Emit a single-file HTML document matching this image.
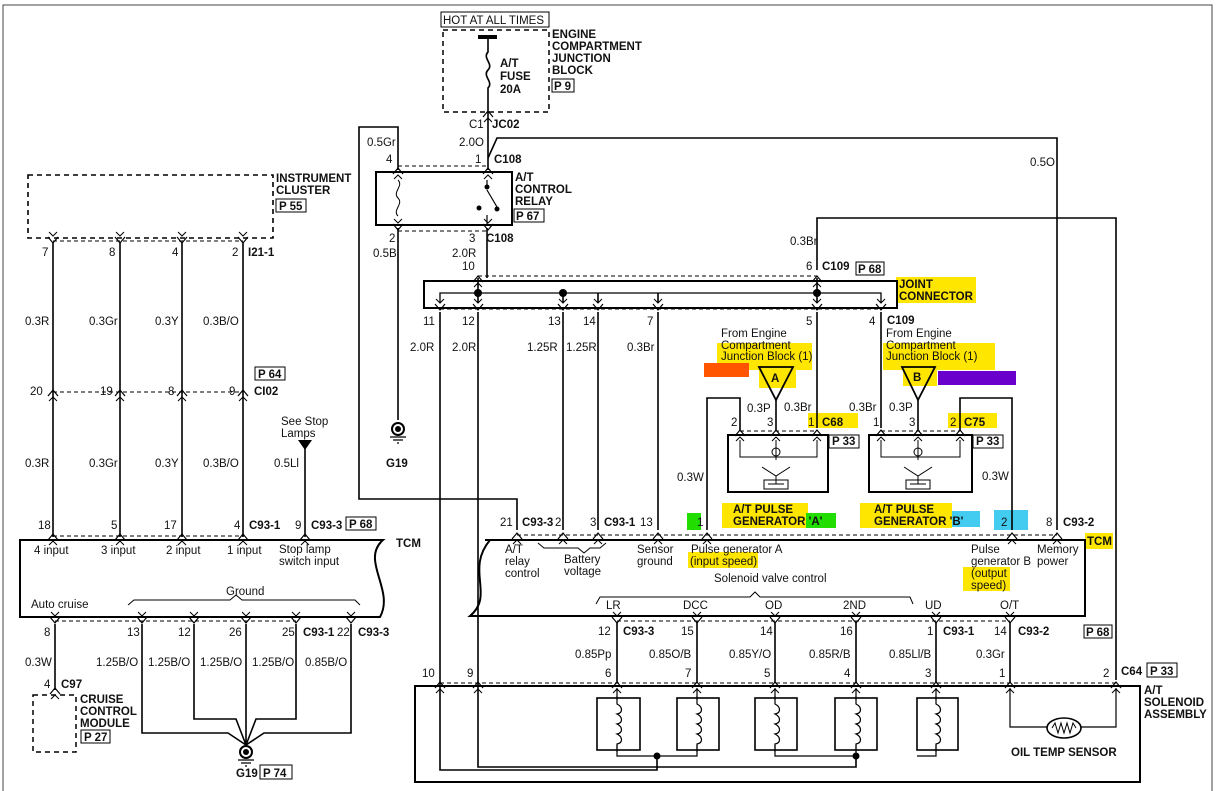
<!DOCTYPE html>
<html><head><meta charset="utf-8"><style>
html,body{margin:0;padding:0;background:#fff}
svg{display:block}
text{font-family:"Liberation Sans",sans-serif;font-size:11.5px;fill:#111}
.b{font-weight:bold}
</style></head><body>
<svg width="1216" height="791" viewBox="0 0 1216 791" xmlns="http://www.w3.org/2000/svg">
<defs>
<g id="u"><path d="M-5,4 L0,-2 L5,4" fill="none" stroke="#000" stroke-width="1.2"/><path d="M-4,9 L0,5 L4,9" fill="none" stroke="#000" stroke-width="1"/></g>
<g id="d"><path d="M-5,-4 L0,2 L5,-4" fill="none" stroke="#000" stroke-width="1.2"/><path d="M-4,-9 L0,-5 L4,-9" fill="none" stroke="#000" stroke-width="1"/></g>
<path id="coil" d="M0,0 V8 C6,11 6,17 0,18 C6,21 6,27 0,28 C6,31 6,37 0,38 C6,41 6,47 0,48 V56" fill="none" stroke="#000" stroke-width="1.2"/>
</defs>
<g>
<rect x="896" y="277" width="80" height="26" fill="#ffe600"/>
<rect x="717" y="343" width="95" height="27" fill="#ffe600"/>
<rect x="883" y="343" width="112" height="27" fill="#ffe600"/>
<rect x="759" y="368" width="37" height="20" fill="#ffe600"/>
<rect x="903" y="368" width="34" height="18" fill="#ffe600"/>
<rect x="704" y="363" width="45" height="14" fill="#ff5500"/>
<rect x="938" y="371" width="78" height="14" fill="#6a00cc"/>
<rect x="808" y="413" width="50" height="15" fill="#ffe600"/>
<rect x="948" y="413" width="49" height="15" fill="#ffe600"/>
<rect x="722" y="503" width="86" height="25" fill="#ffe600"/>
<rect x="806" y="513" width="30" height="15" fill="#22dd00"/>
<rect x="687" y="513" width="14" height="17" fill="#22dd00"/>
<rect x="860" y="503" width="92" height="25" fill="#ffe600"/>
<rect x="952" y="511" width="28" height="16" fill="#44ccf0"/>
<rect x="994" y="510" width="34" height="20" fill="#44ccf0"/>
<rect x="1085" y="533" width="28" height="16" fill="#ffe600"/>
<rect x="688" y="552" width="70" height="16" fill="#ffe600"/>
<rect x="963" y="567" width="47" height="24" fill="#ffe600"/>
</g>
<path d="M3,791 V5 H1212 V791" fill="none" stroke="#444" stroke-width="1"/>
<g fill="none" stroke="#000" stroke-width="1.6">
<rect x="441" y="12" width="108" height="15" stroke-width="1"/>
<rect x="443" y="30" width="106" height="82" stroke-dasharray="5,4" stroke-width="1.5"/>
<line x1="478" y1="37" x2="497" y2="37" stroke-width="4"/>
<path d="M488,38 V52 C482,58 494,64 488,70 C482,76 494,82 488,88 V170"/>
<path d="M488,158 L497,138 H1057 V530"/>
<rect x="376" y="172" width="136" height="53" stroke-width="2"/>
<path d="M398,170 V127 H359 V499 H517 V530"/>
<path d="M398,228 V420"/>
<path d="M398,180 C404,186 392,192 398,198 C404,204 392,210 398,216" stroke-width="1"/>
<path d="M487,180 V188 M487,190 L497,207 M487,215 V225" stroke-width="1.2"/>
<path d="M487,228 V278"/>
<rect x="424" y="281" width="473" height="27" stroke-width="2"/>
<path d="M440,303 V293 H881 V303" stroke-width="1.3"/>
<path d="M478,278 V303 M817,278 V303 M563,293 V303 M598,293 V303 M658,293 V303"/>
<path d="M817,270 V218 H1116 V680"/>
<path d="M440,312 V770 H657 V756"/>
<path d="M478,312 V767 H856 V756"/>
<path d="M563,312 V530 M598,312 V530 M658,312 V530 M817,312 V428 M881,312 V428"/>
<rect x="728" y="435" width="100" height="57" stroke-width="2"/>
<rect x="869" y="435" width="103" height="57" stroke-width="2"/>
<path d="M740,430 V398 H707 V530"/>
<path d="M960,430 V398 H1012 V530"/>
<path d="M776,400 V430 M918,400 V430"/>
<path d="M759,367 H793 L776,400 Z M902,367 H935 L918,400 Z" stroke-width="1.8"/>
<path d="M740,440 V457 H817 V440 M776,440 V460 M762,467 L776,476 L790,467 M776,476 V484 M768,484 H784" stroke-width="1"/>
<path d="M881,440 V457 H960 V440 M918,440 V460 M904,467 L918,476 L932,467 M918,476 V484 M910,484 H926" stroke-width="1"/>
<circle cx="776" cy="452" r="4" stroke-width="1"/><circle cx="918" cy="452" r="4" stroke-width="1"/>
<rect x="764" y="480" width="24" height="9" stroke-width="1"/><rect x="906" y="480" width="24" height="9" stroke-width="1"/>
<path d="M485,540 H1085 V616 H470 C495,595 465,570 490,540" stroke-width="2"/>
<path d="M617,622 V683 M697,622 V683 M775,622 V683 M856,622 V683 M936,622 V683 M1010,622 V683"/>
<path d="M538,543 L544,548 H578 L584,553 L590,548 H600 L606,543" stroke-width="1"/>
<path d="M596,604 L600,597 H750 L755,592 L760,597 H910 L913,604" stroke-width="1"/>
<rect x="415" y="686" width="725" height="96" stroke-width="2"/>
<g stroke-width="1.6">
<rect x="597" y="698" width="43" height="52"/><rect x="677" y="698" width="42" height="52"/>
<rect x="755" y="698" width="42" height="52"/><rect x="835" y="698" width="42" height="52"/>
<rect x="917" y="698" width="41" height="52"/>
</g>
<path d="M617,688 V700 M617,745 V756 H697 V745 M697,688 V700 M775,688 V700 M775,745 V756 H856 V745 M856,688 V700 M936,688 V700 M936,745 V756 H917" stroke-width="1.2"/>
<path d="M1010,688 V727 H1047 M1081,727 H1116 V688" stroke-width="1.2"/>
<ellipse cx="1064" cy="728" rx="17" ry="10" stroke-width="1.6"/>
<path d="M1052,728 L1055,723 L1058,733 L1061,723 L1064,733 L1067,723 L1070,733 L1073,723 L1076,728" stroke-width="1"/>
<rect x="28" y="175" width="245" height="63" stroke-dasharray="5,4" stroke-width="1.6"/>
<path d="M53,243 V537 M120,243 V537 M182,243 V537 M243,243 V537"/>
<path d="M305,448 V537"/>
<path d="M20,540 H383 C360,560 395,590 380,617 H20 Z" stroke-width="2"/>
<path d="M128,605 L134,600 H230 L236,595 L242,600 H355 L360,605" stroke-width="1"/>
<path d="M55,624 V690"/>
<rect x="33" y="695" width="43" height="57" stroke-dasharray="5,4" stroke-width="1.5"/>
<path d="M142,624 V733 H228 L246,745 M194,624 V719 H236 L246,745 M246,624 V745 M296,624 V719 H256 L246,745 M351,624 V733 H264 L246,745"/>
</g>
<use href="#coil" x="617" y="696"/><use href="#coil" x="697" y="696"/><use href="#coil" x="775" y="696"/><use href="#coil" x="856" y="696"/><use href="#coil" x="936" y="696"/>
<g stroke="#000" stroke-width="1" stroke-dasharray="4,3" fill="none">
<path d="M398,166 H488 M398,231 H488 M53,241 H243 M53,392 H243 M53,536 H243 M55,621 H296 M478,276 H817 M440,309 H881 M740,431 H817 M881,431 H960 M517,535 H1057 M617,621 H1010 M440,683 H1116"/>
</g>
<g>
<use href="#u" x="488" y="113"/><use href="#u" x="398" y="170"/><use href="#u" x="488" y="170"/>
<use href="#d" x="398" y="228"/><use href="#d" x="488" y="228"/>
<use href="#u" x="478" y="278"/><use href="#u" x="817" y="278"/>
<use href="#d" x="440" y="308"/><use href="#d" x="478" y="308"/><use href="#d" x="563" y="308"/><use href="#d" x="598" y="308"/><use href="#d" x="658" y="308"/><use href="#d" x="817" y="308"/><use href="#d" x="881" y="308"/>
<use href="#u" x="740" y="432"/><use href="#u" x="776" y="432"/><use href="#u" x="817" y="432"/>
<use href="#u" x="881" y="432"/><use href="#u" x="918" y="432"/><use href="#u" x="960" y="432"/>
<use href="#u" x="517" y="535"/><use href="#u" x="563" y="535"/><use href="#u" x="598" y="535"/><use href="#u" x="658" y="535"/><use href="#u" x="707" y="535"/><use href="#u" x="1012" y="535"/><use href="#u" x="1057" y="535"/>
<use href="#d" x="617" y="621"/><use href="#d" x="697" y="621"/><use href="#d" x="775" y="621"/><use href="#d" x="856" y="621"/><use href="#d" x="936" y="621"/><use href="#d" x="1010" y="621"/>
<use href="#u" x="440" y="684"/><use href="#u" x="478" y="684"/><use href="#u" x="617" y="684"/><use href="#u" x="697" y="684"/><use href="#u" x="775" y="684"/><use href="#u" x="856" y="684"/><use href="#u" x="936" y="684"/><use href="#u" x="1010" y="684"/><use href="#u" x="1116" y="684"/>
<use href="#d" x="53" y="241"/><use href="#d" x="120" y="241"/><use href="#d" x="182" y="241"/><use href="#d" x="243" y="241"/>
<use href="#u" x="53" y="392"/><use href="#u" x="120" y="392"/><use href="#u" x="182" y="392"/><use href="#u" x="243" y="392"/>
<use href="#u" x="53" y="536"/><use href="#u" x="120" y="536"/><use href="#u" x="182" y="536"/><use href="#u" x="243" y="536"/><use href="#u" x="305" y="536"/>
<use href="#d" x="55" y="621"/><use href="#d" x="142" y="621"/><use href="#d" x="194" y="621"/><use href="#d" x="246" y="621"/><use href="#d" x="296" y="621"/><use href="#d" x="351" y="621"/>
<use href="#u" x="55" y="690"/>
</g>
<g fill="#000">
<circle cx="478" cy="293" r="4"/><circle cx="563" cy="293" r="4"/><circle cx="817" cy="293" r="4"/>
<circle cx="657" cy="756" r="3.5"/><circle cx="856" cy="756" r="3.5"/>
<circle cx="487" cy="187" r="2.5"/><circle cx="497" cy="209" r="2.5"/><circle cx="479" cy="208" r="2.5"/>
<path d="M298,440 H312 L305,450 Z"/>
</g>
<g fill="none" stroke="#000" stroke-width="2">
<circle cx="398" cy="429" r="6"/><circle cx="246" cy="752" r="6"/>
</g>
<g fill="#000"><circle cx="398" cy="429" r="3"/><circle cx="246" cy="752" r="3"/></g>
<path d="M390,437 H406 M393,440 H403 M397,443 H399 M238,760 H254 M241,763 H251 M245,766 H247" stroke="#000" stroke-width="1.2"/>
<g fill="none" stroke="#000" stroke-width="1">
<rect x="552" y="79" width="22" height="13"/><rect x="514" y="209" width="30" height="13"/>
<rect x="276" y="199" width="30" height="13"/><rect x="255" y="367" width="30" height="13"/>
<rect x="346" y="517" width="30" height="13"/><rect x="856" y="262" width="28" height="13"/>
<rect x="829" y="435" width="30" height="13"/><rect x="973" y="435" width="30" height="13"/>
<rect x="1084" y="625" width="28" height="13"/><rect x="1147" y="663" width="30" height="14"/>
<rect x="81" y="730" width="29" height="13"/><rect x="260" y="765" width="32" height="14"/>
</g>
<g>
<text x="443" y="24">HOT AT ALL TIMES</text>
<text class="b" x="552" y="38">ENGINE</text><text class="b" x="552" y="50">COMPARTMENT</text><text class="b" x="552" y="62">JUNCTION</text><text class="b" x="552" y="74">BLOCK</text>
<text class="b" x="554" y="90">P 9</text>
<text class="b" x="500" y="67">A/T</text><text class="b" x="500" y="80">FUSE</text><text class="b" x="500" y="93">20A</text>
<text x="469" y="128">C1</text><text class="b" x="492" y="128">JC02</text>
<text x="459" y="146">2.0O</text><text x="475" y="163">1</text><text class="b" x="494" y="163">C108</text>
<text x="367" y="146">0.5Gr</text><text x="386" y="163">4</text>
<text class="b" x="515" y="181">A/T</text><text class="b" x="515" y="193">CONTROL</text><text class="b" x="515" y="205">RELAY</text>
<text class="b" x="516" y="220">P 67</text>
<text x="389" y="242">2</text><text x="373" y="257">0.5B</text>
<text x="469" y="242">3</text><text class="b" x="486" y="242">C108</text>
<text x="452" y="257">2.0R</text><text x="462" y="270">10</text>
<text x="790" y="245">0.3Br</text><text x="806" y="270">6</text><text class="b" x="822" y="270">C109</text><text class="b" x="858" y="273">P 68</text>
<text x="1030" y="166">0.5O</text>
<text class="b" x="899" y="288">JOINT</text><text class="b" x="899" y="300">CONNECTOR</text>
<text x="423" y="325">11</text><text x="462" y="325">12</text><text x="548" y="325">13</text><text x="583" y="325">14</text><text x="647" y="325">7</text><text x="806" y="325">5</text><text x="869" y="325">4</text><text class="b" x="887" y="324">C109</text>
<text x="410" y="351">2.0R</text><text x="452" y="351">2.0R</text><text x="527" y="351">1.25R</text><text x="566" y="351">1.25R</text><text x="627" y="351">0.3Br</text>
<text x="721" y="337">From Engine</text><text x="721" y="349">Compartment</text><text x="721" y="360">Junction Block (1)</text>
<text x="886" y="337">From Engine</text><text x="886" y="349">Compartment</text><text x="886" y="360">Junction Block (1)</text>
<text class="b" x="771" y="382">A</text><text class="b" x="913" y="381">B</text>
<text x="747" y="412">0.3P</text><text x="784" y="411">0.3Br</text><text x="849" y="411">0.3Br</text><text x="889" y="411">0.3P</text>
<text x="731" y="426">2</text><text x="767" y="426">3</text><text x="808" y="426">1</text><text class="b" x="822" y="426">C68</text>
<text x="873" y="426">1</text><text x="909" y="426">3</text><text x="950" y="426">2</text><text class="b" x="964" y="426">C75</text>
<text class="b" x="832" y="445">P 33</text><text class="b" x="976" y="445">P 33</text>
<text x="677" y="481">0.3W</text><text x="982" y="480">0.3W</text>
<text class="b" x="733" y="513">A/T PULSE</text><text class="b" x="733" y="525">GENERATOR 'A'</text>
<text class="b" x="874" y="513">A/T PULSE</text><text class="b" x="874" y="525">GENERATOR 'B'</text>
<text x="697" y="526">1</text><text x="1001" y="526">2</text><text x="1046" y="526">8</text><text class="b" x="1063" y="526">C93-2</text>
<text x="500" y="526">21</text><text class="b" x="522" y="526">C93-3</text><text x="555" y="526">2</text><text x="590" y="526">3</text><text class="b" x="604" y="526">C93-1</text><text x="640" y="526">13</text>
<text class="b" x="1087" y="545">TCM</text>
<text x="505" y="553">A/T</text><text x="505" y="565">relay</text><text x="505" y="577">control</text>
<text x="564" y="563">Battery</text><text x="564" y="575">voltage</text>
<text x="637" y="553">Sensor</text><text x="637" y="565">ground</text>
<text x="691" y="553">Pulse generator A</text><text x="690" y="565">(input speed)</text>
<text x="714" y="582">Solenoid valve control</text>
<text x="971" y="553">Pulse</text><text x="971" y="565">generator B</text><text x="971" y="577">(output</text><text x="971" y="589">speed)</text>
<text x="1037" y="553">Memory</text><text x="1037" y="565">power</text>
<text x="606" y="609">LR</text><text x="683" y="609">DCC</text><text x="765" y="609">OD</text><text x="843" y="609">2ND</text><text x="925" y="609">UD</text><text x="1000" y="609">O/T</text>
<text x="598" y="635">12</text><text class="b" x="623" y="635">C93-3</text><text x="681" y="635">15</text><text x="760" y="635">14</text><text x="840" y="635">16</text><text x="927" y="635">1</text><text class="b" x="943" y="635">C93-1</text><text x="994" y="635">14</text><text class="b" x="1018" y="635">C93-2</text><text class="b" x="1086" y="636">P 68</text>
<text x="575" y="658">0.85Pp</text><text x="649" y="658">0.85O/B</text><text x="729" y="658">0.85Y/O</text><text x="809" y="658">0.85R/B</text><text x="889" y="658">0.85Ll/B</text><text x="976" y="658">0.3Gr</text>
<text x="422" y="677">10</text><text x="467" y="677">9</text><text x="605" y="677">6</text><text x="685" y="677">7</text><text x="764" y="677">5</text><text x="844" y="677">4</text><text x="925" y="677">3</text><text x="999" y="677">1</text><text x="1103" y="677">2</text><text class="b" x="1121" y="675">C64</text><text class="b" x="1150" y="675">P 33</text>
<text class="b" x="1144" y="694">A/T</text><text class="b" x="1144" y="706">SOLENOID</text><text class="b" x="1144" y="718">ASSEMBLY</text>
<text class="b" x="1011" y="756">OIL TEMP SENSOR</text>
<text x="386" y="467" class="b">G19</text>
<text class="b" x="276" y="182">INSTRUMENT</text><text class="b" x="276" y="194">CLUSTER</text><text class="b" x="279" y="210">P 55</text>
<text x="42" y="256">7</text><text x="109" y="256">8</text><text x="172" y="256">4</text><text x="232" y="256">2</text><text class="b" x="248" y="256">I21-1</text>
<text x="25" y="325">0.3R</text><text x="89" y="325">0.3Gr</text><text x="155" y="325">0.3Y</text><text x="203" y="325">0.3B/O</text>
<text class="b" x="258" y="378">P 64</text>
<text x="30" y="395">20</text><text x="100" y="395">19</text><text x="168" y="395">8</text><text x="229" y="395">9</text><text class="b" x="254" y="395">CI02</text>
<text x="25" y="467">0.3R</text><text x="89" y="467">0.3Gr</text><text x="155" y="467">0.3Y</text><text x="203" y="467">0.3B/O</text><text x="274" y="467">0.5Ll</text>
<text x="281" y="425">See Stop</text><text x="281" y="437">Lamps</text>
<text x="38" y="529">18</text><text x="111" y="529">5</text><text x="164" y="529">17</text><text x="234" y="529">4</text><text class="b" x="249" y="529">C93-1</text><text x="295" y="529">9</text><text class="b" x="311" y="529">C93-3</text><text class="b" x="349" y="528">P 68</text>
<text class="b" x="396" y="547">TCM</text>
<text x="34" y="554">4 input</text><text x="101" y="554">3 input</text><text x="166" y="554">2 input</text><text x="227" y="554">1 input</text><text x="279" y="553">Stop lamp</text><text x="279" y="565">switch input</text>
<text x="226" y="595">Ground</text><text x="31" y="608">Auto cruise</text>
<text x="44" y="636">8</text><text x="127" y="636">13</text><text x="178" y="636">12</text><text x="229" y="636">26</text><text x="282" y="636">25</text><text class="b" x="303" y="636">C93-1</text><text x="337" y="636">22</text><text class="b" x="358" y="636">C93-3</text>
<text x="25" y="666">0.3W</text><text x="96" y="666">1.25B/O</text><text x="148" y="666">1.25B/O</text><text x="200" y="666">1.25B/O</text><text x="252" y="666">1.25B/O</text><text x="305" y="666">0.85B/O</text>
<text x="44" y="688">4</text><text class="b" x="61" y="688">C97</text>
<text class="b" x="80" y="703">CRUISE</text><text class="b" x="80" y="715">CONTROL</text><text class="b" x="80" y="727">MODULE</text><text class="b" x="84" y="741">P 27</text>
<text class="b" x="236" y="777">G19</text><text class="b" x="263" y="777">P 74</text>
</g>
</svg>
</body></html>
